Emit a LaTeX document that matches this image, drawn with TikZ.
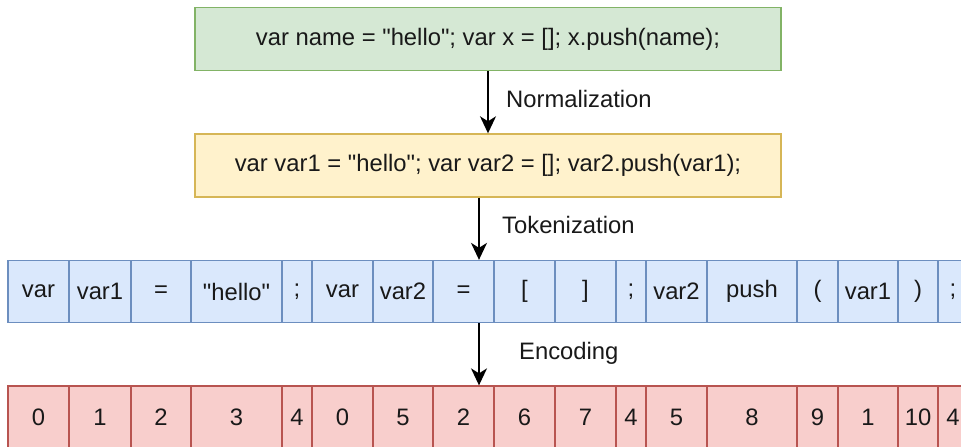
\documentclass[tikz,border=0pt]{standalone}
\usepackage{fontspec}
\setmainfont{Liberation Sans}[Ligatures=TeXOff]
\usetikzlibrary{arrows.meta}
\definecolor{gfill}{HTML}{D5E8D4}\definecolor{gline}{HTML}{82B366}
\definecolor{yfill}{HTML}{FFF2CC}\definecolor{yline}{HTML}{D6B656}
\definecolor{bfill}{HTML}{DAE8FC}\definecolor{bline}{HTML}{6C8EBF}
\definecolor{rfill}{HTML}{F8CECC}\definecolor{rline}{HTML}{B85450}
\tikzset{
  txt/.style={font=\fontsize{23.8}{28}\selectfont, text=black!90},
  box/.style={txt, draw, line width=1.4pt, inner sep=0pt, minimum width=586pt, minimum height=63pt},
  cell/.style={txt, draw, line width=1.3pt, inner sep=0pt, minimum height=62pt},
  tokcell/.style={cell, fill=bfill, draw=bline},
  enccell/.style={cell, fill=rfill, draw=rline},
  flow/.style={line width=1.6pt, -{Stealth[length=17pt, width=16pt, inset=5pt]}},
  steplabel/.style={txt, anchor=base west, inner sep=0pt}
}
\begin{document}
\begin{tikzpicture}[x=1pt, y=-1pt]
\clip (0,0) rectangle (961,447);
\fill[white] (0,0) rectangle (961,447);

% source and normalised source
\node[box, fill=gfill, draw=gline] (src) at (488,39) {var name = "hello"; var x = []; x.push(name);};
\node[box, fill=yfill, draw=yline] (norm) at (488,165.5) {var var1 = "hello"; var var2 = []; var2.push(var1);};

% token row
\foreach \i/\a/\b/\t in {1/8/69/var, 2/69/131/var1, 3/131/191/=, 4/191/282/"hello", 5/282/312/;,
  6/312/373/var, 7/373/433/var2, 8/433/494/=, 9/494/555/[, 10/555/616/],
  11/616/646/;, 12/646/707/var2, 13/707/797/push, 14/797/838/(, 15/838/898/var1,
  16/898/938/), 17/938/968/;}
  \node[tokcell, minimum width=\b-\a] (t\i) at ({(\a+\b)/2},291.5) {\t};

% encoded row
\foreach \i/\a/\b/\t in {1/8/69/0, 2/69/131/1, 3/131/191/2, 4/191/282/3, 5/282/312/4,
  6/312/373/0, 7/373/433/5, 8/433/494/2, 9/494/555/6, 10/555/616/7,
  11/616/646/4, 12/646/707/5, 13/707/797/8, 14/797/838/9, 15/838/898/1,
  16/898/938/10, 17/938/968/4}
  \node[enccell, minimum width=\b-\a] (e\i) at ({(\a+\b)/2},417) {\t};

% pipeline arrows
\coordinate (axis) at (479,0);
\draw[flow] (src.south) -- (norm.north);
\draw[flow] (norm.south -| axis) -- (t8.north -| axis);
\draw[flow] (t8.south -| axis) -- (e8.north -| axis);

% step labels
\node[steplabel] (lnorm) at (506,107) {Normalization};
\node[steplabel] (ltok) at (502,233) {Tokenization};
\node[steplabel] (lenc) at (519,359) {Encoding};
\end{tikzpicture}
\end{document}
